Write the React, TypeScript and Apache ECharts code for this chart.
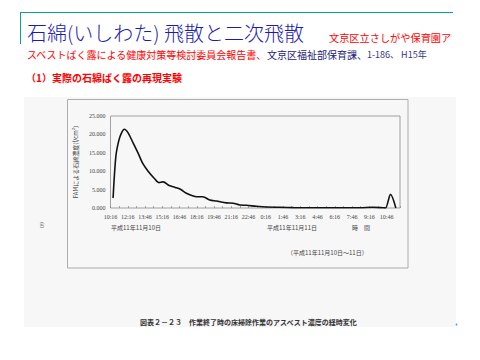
import React, { useEffect, useRef } from "react";
import * as echarts from "echarts";

const tickLabels = ["10:16", "12:16", "13:46", "15:16", "16:46", "18:16", "19:46", "21:16", "22:46", "0:16", "1:46", "3:16", "4:46", "6:16", "7:46", "9:16", "10:46"];
const samplePos = [0.15, 0.31, 0.48, 0.64, 0.8, 1.02, 1.31, 1.6, 1.86, 2.18, 2.53, 2.8, 3.05, 3.4, 3.75, 4.05, 4.4, 4.75, 5.0, 5.35, 5.75, 6.14, 6.72, 7.11, 7.5, 7.88, 8.46, 9.04, 9.81, 10.6, 11.5, 12.5, 13.5, 14.5, 15.2, 15.8, 15.94, 16.23, 16.54];
const concentration = [2.7, 14.0, 18.3, 20.4, 21.4, 20.4, 17.7, 14.9, 12.2, 10.0, 8.1, 6.9, 7.1, 6.1, 5.6, 5.1, 4.0, 3.3, 3.05, 3.05, 2.2, 1.9, 1.4, 1.3, 0.8, 0.73, 0.46, 0.27, 0.19, 0.1, 0.05, 0.05, 0.05, 0.08, 0.2, 0.05, 0, 3.7, 0];

const JP = '"Noto Sans CJK JP", sans-serif';
const SERIF = '"Liberation Serif", "DejaVu Serif", serif';

export default function App() {
  const ref = useRef<HTMLDivElement>(null);
  useEffect(() => {
    if (!ref.current) return;
    const chart = echarts.init(ref.current, null, { renderer: "svg" });
    const data = samplePos.map((p, i) => [p, concentration[i]]);
    chart.setOption({
      animation: false,
      backgroundColor: "#ffffff",
      grid: {
        left: 110.5,
        right: 80,
        top: 116,
        bottom: 152,
        show: true,
        borderColor: "#8a8a8a",
        borderWidth: 0.8,
        backgroundColor: "transparent",
      },
      xAxis: {
        type: "value",
        min: 0,
        max: 16.78,
        interval: 1,
        axisLine: { show: false },
        axisTick: { show: true, inside: true, length: 2, lineStyle: { color: "#777", width: 0.6 } },
        minorTick: { show: true, splitNumber: 2, length: 2, lineStyle: { color: "#777", width: 0.6 } },
        splitLine: { show: false },
        axisLabel: {
          margin: 6,
          fontSize: 6,
          fontFamily: SERIF,
          color: "#444",
          showMaxLabel: false,
          formatter: (v: number) => {
            const i = Math.round(v);
            return Math.abs(v - i) < 1e-6 && tickLabels[i] ? tickLabels[i] : "";
          },
        },
      },
      yAxis: {
        type: "value",
        min: 0,
        max: 25,
        interval: 5,
        name: "FAMによる石綿濃度(f/cm³)",
        nameLocation: "middle",
        nameGap: 24,
        nameRotate: 90,
        nameTextStyle: { fontSize: 6, fontFamily: JP, color: "#444" },
        axisLine: { show: false },
        axisTick: { show: false },
        splitLine: { show: false },
        axisLabel: {
          margin: 5,
          fontSize: 6,
          fontFamily: SERIF,
          color: "#444",
          formatter: (v: number) => v.toFixed(3),
        },
      },
      series: [
        {
          type: "line",
          data,
          smooth: 0.3,
          showSymbol: false,
          lineStyle: { color: "#111", width: 1.6 },
          z: 5,
        },
      ],
      graphic: [
        { type: "rect", z: -10, shape: { x: 24, y: 97, width: 432, height: 230 }, style: { fill: "#f7f7f7" } },
        {
          type: "line",
          z: -5,
          shape: { x1: 24.5, y1: 172, x2: 24.5, y2: 327 },
          style: {
            lineWidth: 1.5,
            stroke: new echarts.graphic.LinearGradient(0, 0, 0, 1, [
              { offset: 0, color: "#e0e0e0" },
              { offset: 0.25, color: "#222" },
              { offset: 1, color: "#000" },
            ]),
          },
        },
        { type: "rect", z: -4, shape: { x: 67.5, y: 99.5, width: 340.5, height: 168.5 }, style: { fill: "none", stroke: "#999", lineWidth: 0.8 } },
        { type: "line", shape: { x1: 20, y1: 12.5, x2: 453, y2: 12.5 }, style: { stroke: "#0aa0a0", lineWidth: 1 } },
        { type: "line", shape: { x1: 20.5, y1: 12, x2: 20.5, y2: 44 }, style: { stroke: "#0aa0a0", lineWidth: 1 } },
        { type: "circle", shape: { cx: 456.5, cy: 324.5, r: 0.8 }, style: { fill: "#10a8c8" } },
        {
          type: "text",
          x: 27,
          y: 32,
          style: { text: "石綿(いしわた) 飛散と二次飛散", fontSize: 20, lineHeight: 18, fontFamily: JP, fontWeight: 300, fill: "#1a1ab8", verticalAlign: "middle" },
        },
        {
          type: "text",
          x: 329,
          y: 37,
          style: { text: "文京区立さしがや保育園ア", fontSize: 10.2, lineHeight: 10, fontFamily: JP, fill: "#ff0000", verticalAlign: "middle" },
        },
        {
          type: "text",
          x: 27,
          y: 54,
          style: {
            text: "{r|スベストばく露による健康対策等検討委員会報告書、}{b|文京区福祉部保育課、}{s|1-186、 H15年}",
            verticalAlign: "middle",
            rich: {
              r: { fontSize: 10, lineHeight: 10, fontFamily: JP, fill: "#ff0000" },
              b: { fontSize: 10, lineHeight: 10, fontFamily: JP, fill: "#1a1a80" },
              s: { fontSize: 9, lineHeight: 10, fontFamily: JP, fill: "#33338a" },
            },
          },
        },
        {
          type: "text",
          x: 26,
          y: 77,
          style: { text: "（1）実際の石綿ばく露の再現実験", fontSize: 10, fontFamily: JP, fontWeight: "bold", fill: "#ff0000", verticalAlign: "middle" },
        },
        {
          type: "text",
          x: 111,
          y: 227,
          style: { text: "平成11年11月10日", fontSize: 6, fontFamily: JP, fill: "#444", verticalAlign: "middle" },
        },
        {
          type: "text",
          x: 267,
          y: 227,
          style: { text: "平成11年11月11日", fontSize: 6, fontFamily: JP, fill: "#444", verticalAlign: "middle" },
        },
        {
          type: "text",
          x: 352,
          y: 227,
          style: { text: "時　間", fontSize: 6, fontFamily: JP, fill: "#444", verticalAlign: "middle" },
        },
        {
          type: "text",
          x: 287,
          y: 252,
          style: { text: "（平成11年11月10日～11日）", fontSize: 6, fontFamily: JP, fill: "#444", verticalAlign: "middle" },
        },
        {
          type: "text",
          x: 140,
          y: 322,
          style: { text: "図表２－２３　作業終了時の床掃除作業のアスベスト濃度の経時変化", fontSize: 7, fontFamily: JP, fontWeight: "bold", fill: "#333", verticalAlign: "middle" },
        },
        {
          type: "text",
          x: 42,
          y: 225,
          rotation: -Math.PI / 2,
          style: { text: "60", fontSize: 6, fontFamily: SERIF, fill: "#666", align: "center", verticalAlign: "middle" },
        },
      ],
    });
    return () => chart.dispose();
  }, []);
  return <div ref={ref} style={{ position: "absolute", left: 0, top: 0, width: 480, height: 360 }} />;
}
